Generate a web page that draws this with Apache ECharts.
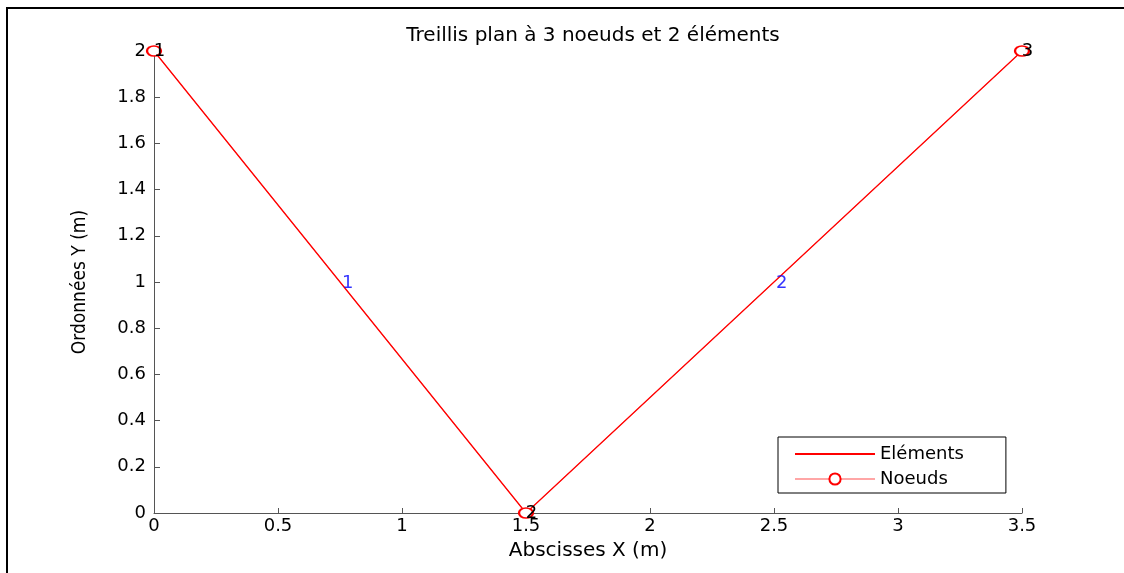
<!DOCTYPE html>
<html>
<head>
<meta charset="utf-8">
<script src="https://cdn.jsdelivr.net/npm/echarts@6/dist/echarts.min.js"></script>
<style>
  html, body { margin: 0; padding: 0; background: #fff; }
  #plot { width: 1124px; height: 573px; }
</style>
</head>
<body>
<div id="plot"></div>
<script>
// nodes of the truss
const node_x = [0, 1.5, 3.5];
const node_y = [2, 0, 2];
const node_ids = ["1", "2", "3"];

// element labels (placed at mid-element)
const elem_x = [0.75, 2.5];
const elem_y = [1, 1];
const elem_ids = ["1", "2"];

const x_ticks = { min: 0, max: 3.5, step: 0.5 };
const y_ticks = { min: 0, max: 2, step: 0.2 };

const font = "'DejaVu Sans', Arial, sans-serif";
const narrow = "'Liberation Sans Narrow', 'DejaVu Sans Condensed', 'Liberation Sans', sans-serif";

function pairs(xs, ys) {
  return xs.map((x, i) => [x, ys[i]]);
}

const chart = echarts.init(document.getElementById('plot'), null, { renderer: 'canvas' });

chart.setOption({
  animation: false,
  backgroundColor: '#fff',
  title: {
    text: "Treillis plan à 3 noeuds et 2 éléments",
    left: 588, top: 21, textAlign: 'center',
    textStyle: { fontFamily: font, fontSize: 20, fontWeight: 'normal', color: '#000' }
  },
  grid: { left: 154, right: 102, top: 51, bottom: 60 },
  xAxis: {
    type: 'value', min: x_ticks.min, max: x_ticks.max, interval: x_ticks.step,
    name: "Abscisses X (m)", nameLocation: 'middle', nameGap: 28,
    nameTextStyle: { fontFamily: font, fontSize: 20, color: '#000' },
    axisLine: { lineStyle: { color: '#555', width: 1 } },
    axisTick: { inside: true, length: 5, lineStyle: { color: '#555' } },
    axisLabel: { margin: 4, fontFamily: font, fontSize: 18, color: '#000' },
    splitLine: { show: false }
  },
  yAxis: {
    type: 'value', min: y_ticks.min, max: y_ticks.max, interval: y_ticks.step,
    name: "Ordonnées Y (m)", nameLocation: 'middle', nameGap: 64,
    nameTextStyle: { fontFamily: narrow, fontSize: 19, color: '#000' },
    axisLine: { show: true, lineStyle: { color: '#555', width: 1 } },
    axisTick: { show: true, inside: true, length: 6, lineStyle: { color: '#555' } },
    axisLabel: { margin: 8, fontFamily: font, fontSize: 18, color: '#000' },
    splitLine: { show: false }
  },
  legend: {
    orient: 'vertical', left: 778, top: 437,
    data: [
      { name: "Eléments", itemStyle: { opacity: 0 } },
      { name: "Noeuds" }
    ],
    backgroundColor: '#fff', borderColor: '#000', borderWidth: 1, borderRadius: 0,
    padding: [8, 42, 5, 16], itemGap: 7, itemWidth: 80, itemHeight: 14,
    textStyle: { fontFamily: font, fontSize: 18, color: '#000' }
  },
  series: [
    {
      name: "Eléments", type: 'line', data: pairs(node_x, node_y),
      showSymbol: false, symbol: 'none',
      lineStyle: { color: '#ff0000', width: 1.3 },
      itemStyle: { color: '#ff0000' }, z: 2
    },
    {
      name: "Noeuds", type: 'line', data: pairs(node_x, node_y),
      symbol: 'emptyCircle', symbolSize: [14, 10],
      lineStyle: { color: 'rgba(255,0,0,0.35)', width: 1 },
      itemStyle: { color: '#ff0000', borderColor: '#ff0000', borderWidth: 1 },
      label: {
        show: true, position: [8, 6], align: 'left', verticalAlign: 'middle',
        formatter: (p) => node_ids[p.dataIndex],
        fontFamily: font, fontSize: 18, color: '#000'
      }, z: 3
    },
    {
      name: "elements_ids", type: 'scatter', data: pairs(elem_x, elem_y),
      symbolSize: 0, silent: true,
      label: {
        show: true, position: [2, 1], align: 'left', verticalAlign: 'middle',
        formatter: (p) => elem_ids[p.dataIndex],
        fontFamily: font, fontSize: 18, color: '#0000ff'
      }
    }
  ],
  graphic: [{
    type: 'rect', shape: { x: 7, y: 8, width: 1140, height: 620 },
    style: { fill: null, stroke: '#000', lineWidth: 2 }, silent: true
  }]
});
</script>
</body>
</html>
